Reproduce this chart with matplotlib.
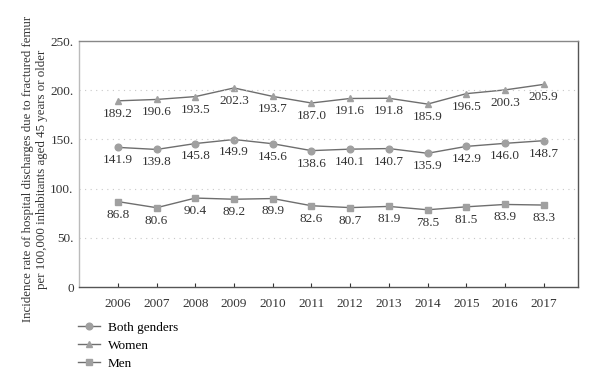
import matplotlib.pyplot as plt

years = [2006, 2007, 2008, 2009, 2010, 2011, 2012, 2013, 2014, 2015, 2016, 2017]
both = [141.9, 139.8, 145.8, 149.9, 145.6, 138.6, 140.1, 140.7, 135.9, 142.9, 146.0, 148.7]
women = [189.2, 190.6, 193.5, 202.3, 193.7, 187.0, 191.6, 191.8, 185.9, 196.5, 200.3, 205.9]
men = [86.8, 80.6, 90.4, 89.2, 89.9, 82.6, 80.7, 81.9, 78.5, 81.5, 83.9, 83.3]
yticks = [0, 50, 100, 150, 200, 250]
ytick_labels = ["0", "50.", "100.", "150.", "200.", "250."]

plt.rcParams['font.family'] = 'Liberation Serif'
fig = plt.figure(figsize=(6, 3.85), dpi=100)
ax = fig.add_axes([0.132, 0.2545, 0.831, 0.639])

line_col = "#6e6e6e"
mark_col = "#a0a0a0"
series = [("Both genders", both, "o"), ("Women", women, "^"), ("Men", men, "s")]
for name, vals, m in series:
    ax.plot(years, vals, color=line_col, lw=1, marker=m, markersize=4.8,
            markerfacecolor=mark_col, markeredgecolor=mark_col, label=name)
    for x, v in zip(years, vals):
        ax.annotate(f"{v:.1f}", (x, v), xytext=(0, -5), textcoords="offset points",
                    ha="center", va="top", fontsize=9.5, color="#333333")

ax.set_xlim(2005, 2017.88)
ax.set_ylim(0, 250)
ax.set_yticks(yticks)
ax.set_yticklabels(ytick_labels)
ax.set_xticks(years)
ax.tick_params(axis="both", labelsize=9.5, colors="#333333", length=3)
ax.tick_params(axis="y", length=0, pad=4)
ax.tick_params(axis="x", direction="in", pad=8)
for y in [50, 100, 150, 200]:
    ax.axhline(y, color="#c8c8c8", lw=0.8, ls=(0, (1, 4)))
for s in ax.spines.values():
    s.set_color("#555555")
    s.set_linewidth(1)
ax.spines["left"].set_color("#bbbbbb")
ax.spines["top"].set_color("#888888")

ax.set_ylabel("Incidence rate of hospital discharges due to fractured femur\nper 100,000 inhabitants aged 45 years or older",
              fontsize=9.3, color="#333333")
ax.yaxis.set_label_coords(-0.062, 0.48)

ax.legend(loc="upper left", bbox_to_anchor=(-0.012, -0.118), frameon=False, fontsize=9.5,
          handlelength=1.6, handletextpad=0.6, labelspacing=0.45, borderaxespad=0)

fig.savefig("out.png", dpi=100)
